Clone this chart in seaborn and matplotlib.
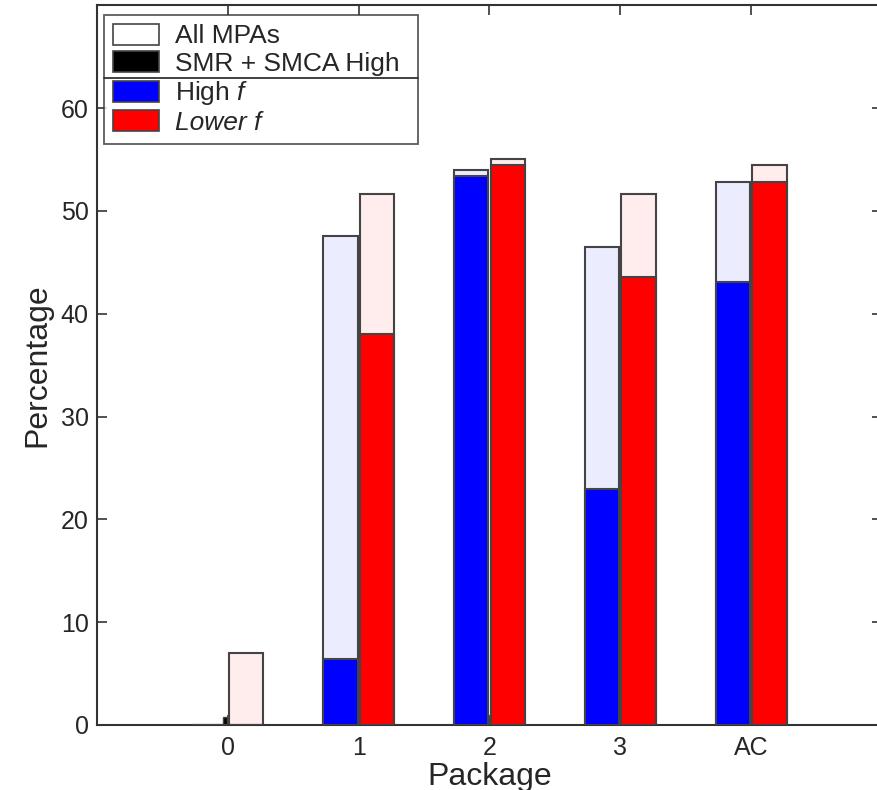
import numpy as np
import pandas as pd
import matplotlib
matplotlib.use("Agg")
import matplotlib.pyplot as plt
import seaborn as sns
from matplotlib.patches import Patch
from matplotlib.lines import Line2D

sns.set_style("white")
plt.rcParams['font.family'] = ['Liberation Sans', 'DejaVu Sans']
plt.rcParams['mathtext.fontset'] = 'custom'
plt.rcParams['mathtext.rm'] = 'Liberation Sans'
plt.rcParams['mathtext.it'] = 'Liberation Sans:italic'

categories = ["0", "1", "2", "3", "AC"]
all_high = [0.0, 47.6, 54.0, 46.5, 52.8]
all_lower = [7.0, 51.7, 55.1, 51.7, 54.5]
val_high = [0.0, 6.4, 53.4, 23.0, 43.1]
val_lower = [0.0, 38.0, 54.5, 43.6, 52.8]
smr_high = [0.8, 0.8, 0.8, 0.8, 0.8]
legend_labels = ["All MPAs", "SMR + SMCA High", "High $\\mathit{f}$", "Lower f"]

totals = pd.DataFrame({
    "Package": categories * 2,
    "side": ["High"] * 5 + ["Lower"] * 5,
    "value": all_high + all_lower,
})
values = pd.DataFrame({
    "Package": categories * 2,
    "side": ["High"] * 5 + ["Lower"] * 5,
    "value": val_high + val_lower,
})

W, H = 877, 790
fig = plt.figure(figsize=(W / 100, H / 100), dpi=100)
ax = fig.add_axes([97 / W, 65 / H, 785 / W, 719.6 / H])

edge = "#444444"
ax.bar(np.arange(len(categories)) - 0.02, smr_high, width=0.03,
       color="black", edgecolor=edge, linewidth=1.0, zorder=1)
sns.barplot(data=totals, x="Package", y="value", hue="side", order=categories,
            palette={"High": "#ececff", "Lower": "#ffecec"}, width=0.56, gap=0.06,
            saturation=1, edgecolor=edge, linewidth=1.5, errorbar=None,
            legend=False, ax=ax, zorder=2)
sns.barplot(data=values, x="Package", y="value", hue="side", order=categories,
            palette={"High": "#0000ff", "Lower": "#ff0000"}, width=0.56, gap=0.06,
            saturation=1, edgecolor=edge, linewidth=1.5, errorbar=None,
            legend=False, ax=ax, zorder=3)

ax.set_xlim(-1, 5)
ax.set_ylim(0, 70)
ax.set_yticks([0, 10, 20, 30, 40, 50, 60])
ax.set_xticks(range(len(categories)))
ax.set_xticklabels(categories)
ax.tick_params(axis="both", direction="in", length=7, width=1.2, color="#333333",
               labelsize=18, top=True, right=True, bottom=True, left=True)
ax.tick_params(axis="y", pad=6)
ax.tick_params(axis="x", pad=8)
for s in ax.spines.values():
    s.set_visible(True)
    s.set_color("#333333")
    s.set_linewidth(1.5)
ax.set_xlabel("Package", fontsize=23, labelpad=1)
ax.set_ylabel("Percentage", fontsize=23, labelpad=6)

handles = [Patch(facecolor="white", edgecolor=edge, linewidth=1.2),
           Patch(facecolor="black", edgecolor=edge, linewidth=1.2),
           Patch(facecolor="#0000ff", edgecolor=edge, linewidth=1.2),
           Patch(facecolor="#ff0000", edgecolor=edge, linewidth=1.2)]
leg = ax.legend(handles, legend_labels, loc="upper left",
                bbox_to_anchor=(7 / 785, 0, 314 / 785, 1 - 9.5 / 719.6),
                mode="expand", borderaxespad=0,
                fontsize=19, frameon=True, fancybox=False, edgecolor="#333333",
                handlelength=1.75, handleheight=0.85, handletextpad=0.6,
                labelspacing=0.12, borderpad=0.33)
leg.get_frame().set_linewidth(1.3)
leg.get_texts()[3].set_style("italic")

fig.canvas.draw()
r = fig.canvas.get_renderer()
fb = leg.get_frame().get_window_extent(r)
t1 = leg.get_texts()[1].get_window_extent(r)
t2 = leg.get_texts()[2].get_window_extent(r)
ymid = (t1.y0 + t2.y1) / 2
fig.add_artist(Line2D([fb.x0 / W, fb.x1 / W], [ymid / H, ymid / H],
                      color="#333333", linewidth=1.3))

fig.savefig("out.png", dpi=100)
